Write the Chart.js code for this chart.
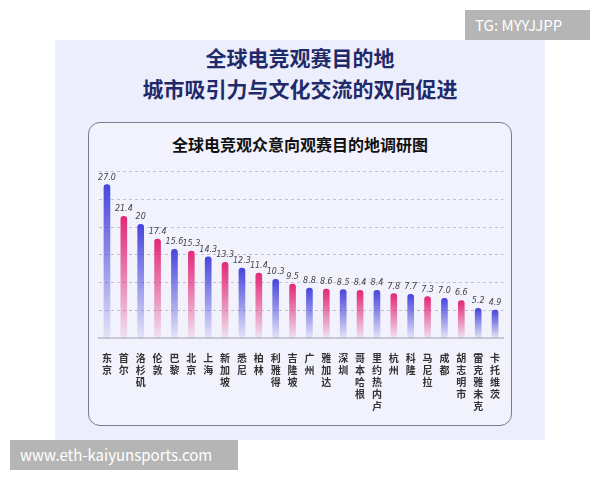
<!DOCTYPE html>
<html><head><meta charset="utf-8">
<script src="https://cdn.jsdelivr.net/npm/chart.js@4"></script>
<style>
body{margin:0;width:600px;height:480px;background:#fff;position:relative;overflow:hidden;font-family:"Noto Sans CJK SC",sans-serif}
#bg{position:absolute;left:55px;top:40px;width:490px;height:400px;background:#eceefb}
#t{position:absolute;left:55px;top:42px;width:490px;text-align:center;color:#1f2a6b;font-weight:700;font-size:21px;line-height:31px}
#card{position:absolute;left:88px;top:122px;width:422px;height:302px;border:1.5px solid #777a90;border-radius:12px;background:#f1f2fb}
#ct{position:absolute;left:88px;top:132px;width:424px;text-align:center;font-weight:700;font-size:16px;color:#111}
#wrap{position:absolute;left:96px;top:168px;width:410px;height:250px}
.wm{position:absolute;background:#b5b5b5;color:#fff;font-size:15px;padding:4px 10px}
</style></head><body>
<div id="bg"></div>
<div id="t">全球电竞观赛目的地<br>城市吸引力与文化交流的双向促进</div>
<div id="card"></div>
<div id="ct">全球电竞观众意向观赛目的地调研图</div>
<div id="wrap"><canvas id="c"></canvas></div>
<div class="wm" style="left:465px;top:10px;width:105px;height:22px;line-height:22px">TG: MYYJJPP</div>
<div class="wm" style="left:10px;top:440px;width:208px;height:22px;line-height:22px">www.eth-kaiyunsports.com</div>
<script>
// Data
const cities = ['东京','首尔','洛杉矶','伦敦','巴黎','北京','上海','新加坡','悉尼','柏林','利雅得','吉隆坡','广州','雅加达','深圳','哥本哈根','里约热内卢','杭州','科隆','马尼拉','成都','胡志明市','雷克雅未克','卡托维茨'];
const values = [27.0,21.4,20,17.4,15.6,15.3,14.3,13.3,12.3,11.4,10.3,9.5,8.8,8.6,8.5,8.4,8.4,7.8,7.7,7.3,7.0,6.6,5.2,4.9];
const valueLabels = ['27.0','21.4','20','17.4','15.6','15.3','14.3','13.3','12.3','11.4','10.3','9.5','8.8','8.6','8.5','8.4','8.4','7.8','7.7','7.3','7.0','6.6','5.2','4.9'];
const tones = ['b','p','b','p','b','p','b','p','b','p','b','p','b','p','b','p','b','p','b','p','b','p','b','b'];

const COLORS = { b: [72, 70, 220], p: [226, 40, 120] };

function barFill(ctx) {
    const chart = ctx.chart;
    const y = chart.scales.y;
    const c = COLORS[tones[ctx.dataIndex]];
    if (!chart.chartArea || !y) return `rgb(${c})`;
    const top = y.getPixelForValue(values[ctx.dataIndex]);
    const bottom = y.getPixelForValue(0);
    if (!isFinite(top) || !isFinite(bottom)) return `rgb(${c})`;
    const g = chart.ctx.createLinearGradient(0, top, 0, bottom);
    g.addColorStop(0, `rgb(${c})`);
    g.addColorStop(0.45, `rgba(${c},0.6)`);
    g.addColorStop(1, `rgba(${c},0.08)`);
    return g;
}

const labelPlugin = {
    id: 'valueLabels',
    afterDatasetsDraw(chart) {
        const ctx = chart.ctx;
        const meta = chart.getDatasetMeta(0);
        ctx.save();
        ctx.font = 'italic 8px "DejaVu Sans"';
        ctx.fillStyle = '#444';
        ctx.textAlign = 'center';
        meta.data.forEach((bar, i) => ctx.fillText(valueLabels[i], bar.x, bar.y - 5));
        ctx.restore();
    }
};

new Chart(document.getElementById('c'), {
    type: 'bar',
    data: {
        labels: cities.map(s => s.split('')),
        datasets: [{ data: values, backgroundColor: barFill, barThickness: 6, borderRadius: 3, borderSkipped: false }]
    },
    options: {
        responsive: true, maintainAspectRatio: false, animation: false,
        plugins: { legend: { display: false }, tooltip: { enabled: false } },
        layout: { padding: { top: 4 } },
        scales: {
            x: {
                grid: { display: false },
                border: { color: '#c6c8d6', width: 2 },
                ticks: { color: '#333', font: { size: 10, family: 'Noto Sans CJK SC', weight: 'bold' }, maxRotation: 0, autoSkip: false, padding: 6 }
            },
            y: {
                min: 0, max: 29.2,
                ticks: { display: false, stepSize: 4.867 },
                border: { display: false, dash: [3, 3] },
                grid: { color: '#c0c2d2', drawTicks: false },
                afterBuildTicks: s => { s.ticks = [1,2,3,4,5,6].map(k => ({ value: k * 4.867 })); }
            }
        }
    },
    plugins: [labelPlugin]
});
</script>
</body></html>
